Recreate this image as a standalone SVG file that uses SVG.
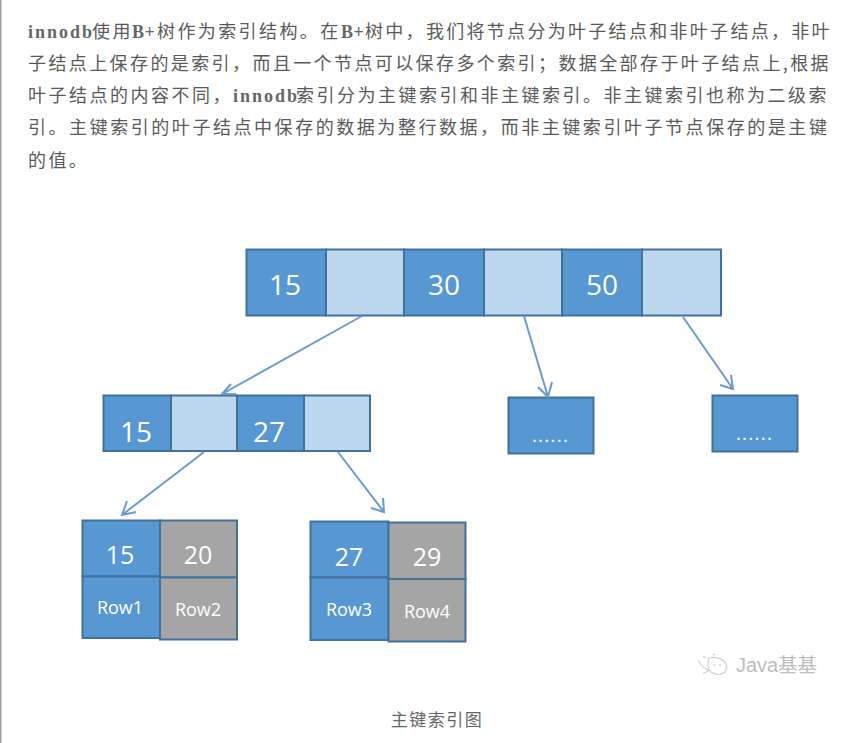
<svg xmlns="http://www.w3.org/2000/svg" width="861" height="743" viewBox="0 0 861 743">
<style>
.p{font-family:"Noto Sans CJK SC",sans-serif;font-size:18px;letter-spacing:2.4px;fill:#5a5a5a}
.l{font-family:"Liberation Serif",serif;font-size:18px;letter-spacing:2px;fill:#666;font-weight:bold}
.n{font-family:"Open Sans","Liberation Sans",sans-serif;fill:#fff;text-anchor:middle}
.d{font-family:"Open Sans","Liberation Sans",sans-serif;fill:#e8f4ff;text-anchor:middle;font-size:14px;font-weight:bold;letter-spacing:2.2px}
.a{fill:#5797d2;stroke:#41719c;stroke-width:2}
.b{fill:#bdd7ee;stroke:#41719c;stroke-width:2}
.g{fill:#a5a5a5;stroke:#41719c;stroke-width:2}
.c{fill:none;stroke:#6a9bcf;stroke-width:2}
</style>
<rect width="861" height="743" fill="#fff"/>
<rect x="0" y="0" width="1.500" height="743" fill="#a0a0a0"/>
<g id="intro">
<text class="l" x="28" y="38">innodb</text><text class="p" x="92" y="38">使用</text><text class="l" x="132" y="38" style="letter-spacing:0.500px">B+</text><text class="p" x="157" y="38">树作为索引结构。在</text><text class="l" x="341" y="38" style="letter-spacing:0.500px">B+</text><text class="p" x="365" y="38" style="letter-spacing:2.300px">树中，我们将节点分为叶子结点和非叶子结点，非叶</text>
<text class="p" x="28" y="70" style="letter-spacing:2.400px">子结点上保存的是索引，而且一个节点可以保存多个索引；数据全部存于叶子结点上,根据</text>
<text class="p" x="28" y="102" style="letter-spacing:2.500px">叶子结点的内容不同，</text><text class="l" x="233" y="102">innodb</text><text class="p" x="296" y="102" style="letter-spacing:2.500px">索引分为主键索引和非主键索引。非主键索引也称为二级索</text>
<text class="p" x="28" y="134" style="letter-spacing:2.550px">引。主键索引的叶子结点中保存的数据为整行数据，而非主键索引叶子节点保存的是主键</text>
<text class="p" x="28" y="167">的值。</text>
</g>
<g id="root">
<rect class="a" x="246.500" y="249.500" width="79.500" height="66"/>
<rect class="b" x="326" y="249.500" width="78" height="66"/>
<rect class="a" x="404" y="249.500" width="80" height="66"/>
<rect class="b" x="484" y="249.500" width="78" height="66"/>
<rect class="a" x="562" y="249.500" width="80" height="66"/>
<rect class="b" x="642" y="249.500" width="79" height="66"/>
<text class="n" x="285" y="295" font-size="28">15</text>
<text class="n" x="444" y="295" font-size="28">30</text>
<text class="n" x="602" y="295" font-size="28">50</text>
</g>
<g id="inner">
<rect class="a" x="103.500" y="395.500" width="67.500" height="55.500"/>
<rect class="b" x="171" y="395.500" width="66" height="55.500"/>
<rect class="a" x="237" y="395.500" width="67" height="55.500"/>
<rect class="b" x="304" y="395.500" width="66" height="55.500"/>
<text class="n" x="136" y="442" font-size="28">15</text>
<text class="n" x="269" y="442" font-size="28">27</text>
</g>
<g id="more1"><rect class="a" x="508.500" y="397.500" width="85" height="56"/><text class="d" x="551" y="442">......</text></g>
<g id="more2"><rect class="a" x="712.500" y="395.500" width="85" height="56"/><text class="d" x="755" y="440">......</text></g>
<g id="leaf1">
<rect class="a" x="82.500" y="520.500" width="77.500" height="56"/>
<rect class="a" x="82.500" y="576.500" width="77.500" height="61.500"/>
<rect class="g" x="160" y="520.500" width="77" height="57"/>
<rect class="g" x="160" y="577.500" width="77" height="62"/>
<text class="n" x="120" y="564" font-size="25">15</text>
<text class="n" x="198" y="564" font-size="25">20</text>
<text class="n" x="120" y="614" font-size="18">Row1</text>
<text class="n" x="198" y="616" font-size="18">Row2</text>
</g>
<g id="leaf2">
<rect class="a" x="310.500" y="521.500" width="78" height="56"/>
<rect class="a" x="310.500" y="577.500" width="78" height="62.500"/>
<rect class="g" x="388.500" y="522.500" width="77" height="56.500"/>
<rect class="g" x="388.500" y="579" width="77" height="62.500"/>
<text class="n" x="349" y="566" font-size="25">27</text>
<text class="n" x="427" y="566" font-size="25">29</text>
<text class="n" x="349" y="616" font-size="18">Row3</text>
<text class="n" x="427" y="618" font-size="18">Row4</text>
</g>
<g id="connectors">
<path class="c" d="M362 316L222 394M231 384L222 394L236 394"/>
<path class="c" d="M524 316L548 397M538 387L548 397L552 382"/>
<path class="c" d="M683 317L733 389M731 375L733 389L720 385"/>
<path class="c" d="M204 452L122 515M136 512L122 515L127 501"/>
<path class="c" d="M338 452L384 512M383 498L384 512L371 508"/>
</g>
<g id="watermark">
<path d="M698 660q5 9 11 10q-3 3 -6 3M709 658q-3 9 2 14q8 5 14 0q4 -6 -1 -11q-7 -5 -15 -3M703 656l3 2M713 655l2 -1" fill="none" stroke="#cfcfcf" stroke-width="1.200"/>
<circle cx="714" cy="665" r="0.800" fill="#bbb"/><circle cx="720" cy="665" r="0.800" fill="#bbb"/>
<text x="736" y="672" font-family="'Liberation Sans',sans-serif" font-size="20" fill="#bdbdbd">Java</text>
<text x="778" y="672" font-family="'Noto Sans CJK SC',sans-serif" font-size="19.500" fill="#bdbdbd">基基</text>
</g>
<text id="caption" x="437" y="726" text-anchor="middle" font-family="'Noto Sans CJK SC',sans-serif" font-size="17" letter-spacing="1.500" fill="#666">主键索引图</text>
</svg>
